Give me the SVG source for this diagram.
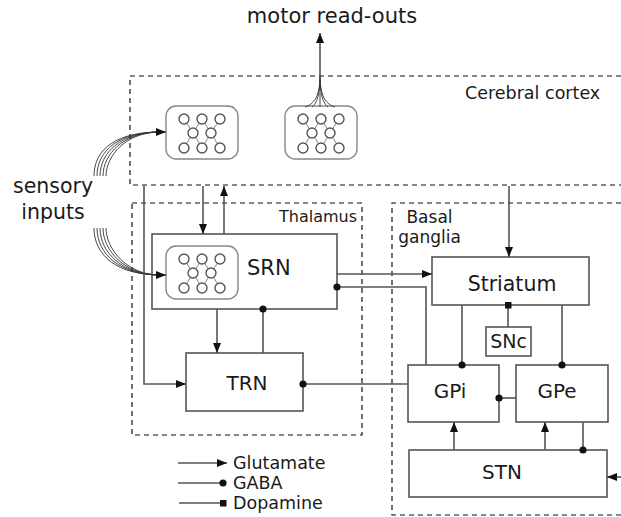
<svg xmlns="http://www.w3.org/2000/svg" xmlns:xlink="http://www.w3.org/1999/xlink" width="621" height="517" viewBox="0 0 621 517">
<style>
text{font-family:"DejaVu Sans","Liberation Sans",sans-serif;fill:#1a1a1a}
.region{fill:none;stroke:#111;stroke-width:1.2;stroke-dasharray:5 4}
.box{fill:#fff;stroke:#555;stroke-width:1.6}
.con{fill:none;stroke:#555;stroke-width:1.6}
.fib{fill:none;stroke:#333;stroke-width:0.9}
.cl{fill:#fff;stroke:#888;stroke-width:1.4}
.nc{fill:#fff;stroke:#555;stroke-width:1.4}
.nl{fill:none;stroke:#888;stroke-width:1}
.lbl{font-size:20px}
.leg{font-size:17.5px}
</style>
<defs>
<marker id="arr" viewBox="0 0 10 8" refX="10" refY="4" markerWidth="10" markerHeight="8" markerUnits="userSpaceOnUse" orient="auto"><path d="M0,0 L10,4 L0,8 z" fill="#111"/></marker>
<marker id="dot" viewBox="0 0 8 8" refX="4" refY="4" markerWidth="8" markerHeight="8" markerUnits="userSpaceOnUse" orient="auto"><circle cx="4" cy="4" r="3.6" fill="#111"/></marker>
<marker id="sq" viewBox="0 0 7 7" refX="3.5" refY="3.5" markerWidth="7" markerHeight="7" markerUnits="userSpaceOnUse" orient="auto"><rect x="0" y="0" width="7" height="7" fill="#111"/></marker>
<g id="cluster">
<rect class="cl" x="0" y="0" width="72" height="53" rx="10"/>
<path class="nl" d="M18,13 L27,27 L18,42 M36,13 L27,27 L36,42 M36,13 L45,27 L36,42 M54,13 L45,27 L54,42"/>
<circle class="nc" cx="18" cy="13" r="5"/><circle class="nc" cx="36" cy="13" r="5"/><circle class="nc" cx="54" cy="13" r="5"/>
<circle class="nc" cx="27" cy="27" r="5"/><circle class="nc" cx="45" cy="27" r="5"/>
<circle class="nc" cx="18" cy="42" r="5"/><circle class="nc" cx="36" cy="42" r="5"/><circle class="nc" cx="54" cy="42" r="5"/>
</g>
</defs>

<g id="regions">
<path class="region" d="M621,76 H130 V185 H621"/>
<rect class="region" x="132" y="203" width="230" height="232"/>
<path class="region" d="M621,203 H392 V515 H621"/>
<text x="465" y="99" style="font-size:17.5px">Cerebral cortex</text>
<text x="279" y="222" style="font-size:16px">Thalamus</text>
<text x="429.5" y="223" text-anchor="middle" style="font-size:17px">Basal</text>
<text x="429.5" y="243" text-anchor="middle" style="font-size:17px">ganglia</text>
</g>

<g id="labels">
<text x="332" y="23" text-anchor="middle" style="font-size:21px">motor read-outs</text>
<text x="53" y="193" text-anchor="middle" style="font-size:20.5px">sensory</text>
<text x="53" y="219" text-anchor="middle" style="font-size:20.5px">inputs</text>
</g>

<g id="cortex-sensory">
<use xlink:href="#cluster" href="#cluster" transform="translate(166,106)"/>
</g>
<g id="cortex-motor">
<use xlink:href="#cluster" href="#cluster" transform="translate(285,106)"/>
</g>

<g id="SRN">
<rect class="box" x="152" y="234" width="185" height="75"/>
<use xlink:href="#cluster" href="#cluster" transform="translate(166,246)"/>
<text class="lbl" x="247" y="275" style="font-size:21px">SRN</text>
</g>
<g id="TRN">
<rect class="box" x="186" y="353" width="117" height="58"/>
<text class="lbl" x="247" y="390" text-anchor="middle">TRN</text>
</g>
<g id="Striatum">
<rect class="box" x="432" y="257" width="157" height="48"/>
<text class="lbl" x="512" y="291" text-anchor="middle" style="font-size:20.5px">Striatum</text>
</g>
<g id="SNc">
<rect class="box" x="486" y="327" width="45" height="29"/>
<text x="508.5" y="348" text-anchor="middle" style="font-size:19px">SNc</text>
</g>
<g id="GPi">
<rect class="box" x="408" y="365" width="91" height="57"/>
<text class="lbl" x="450" y="398" text-anchor="middle">GPi</text>
</g>
<g id="GPe">
<rect class="box" x="516" y="365" width="92" height="57"/>
<text class="lbl" x="557" y="398" text-anchor="middle">GPe</text>
</g>
<g id="STN">
<rect class="box" x="409" y="450" width="198" height="47"/>
<text class="lbl" x="502" y="479" text-anchor="middle">STN</text>
</g>

<g id="connectors">
<!-- sensory bundles -->
<path class="fib" d="M94,176 C94,148 118,132 160,132 M97,176 C97,150 120,132 160,132 M100,176 C100,152 122,132 160,132 M103,176 C103,154 124,132 160,132 M106,176 C106,156 126,132 160,132"/>
<path class="con" d="M158,132 H166" marker-end="url(#arr)"/>
<path class="fib" d="M94,228 C94,256 118,275 160,275 M97,228 C97,254 120,275 160,275 M100,228 C100,252 122,275 160,275 M103,228 C103,250 124,275 160,275 M106,228 C106,248 126,275 160,275"/>
<path class="con" d="M158,275 H166" marker-end="url(#arr)"/>
<!-- motor bundle -->
<path class="fib" d="M305,107 C314,104 320,97 320,75 M312,107 C317,103 320,95 320,75 M320,107 L320,75 M328,107 C323,103 320,95 320,75 M335,107 C326,104 320,97 320,75"/>
<path class="con" d="M320,80 V33" marker-end="url(#arr)"/>
<!-- thalamic -->
<path class="con" d="M203,186 V234" marker-end="url(#arr)"/>
<path class="con" d="M224,234 V186" marker-end="url(#arr)"/>
<path class="con" d="M144,186 V384 H186" marker-end="url(#arr)"/>
<path class="con" d="M217,309 V353" marker-end="url(#arr)"/>
<path class="con" d="M263,353 V309" marker-end="url(#dot)"/>
<path class="con" d="M337,274 H432" marker-end="url(#arr)"/>
<path class="con" d="M426,365 V287 H337" marker-end="url(#dot)"/>
<path class="con" d="M408,384 H303" marker-end="url(#dot)"/>
<!-- basal ganglia -->
<path class="con" d="M509,186 V257" marker-end="url(#arr)"/>
<path class="con" d="M508,327 V305" marker-end="url(#sq)"/>
<path class="con" d="M462,305 V365" marker-end="url(#dot)"/>
<path class="con" d="M562,305 V365" marker-end="url(#dot)"/>
<path class="con" d="M516,398 H499" marker-end="url(#dot)"/>
<path class="con" d="M454,450 V422" marker-end="url(#arr)"/>
<path class="con" d="M545,450 V422" marker-end="url(#arr)"/>
<path class="con" d="M583,422 V450" marker-end="url(#dot)"/>
<path class="con" d="M621,477 H607" marker-end="url(#arr)"/>
</g>

<g id="legend">
<path class="con" d="M178,463 H227" marker-end="url(#arr)"/>
<path class="con" d="M178,483 H223" marker-end="url(#dot)"/>
<path class="con" d="M179,503 H223" marker-end="url(#sq)"/>
<text class="leg" x="233" y="469">Glutamate</text>
<text class="leg" x="233" y="489">GABA</text>
<text class="leg" x="233" y="509">Dopamine</text>
</g>
</svg>
